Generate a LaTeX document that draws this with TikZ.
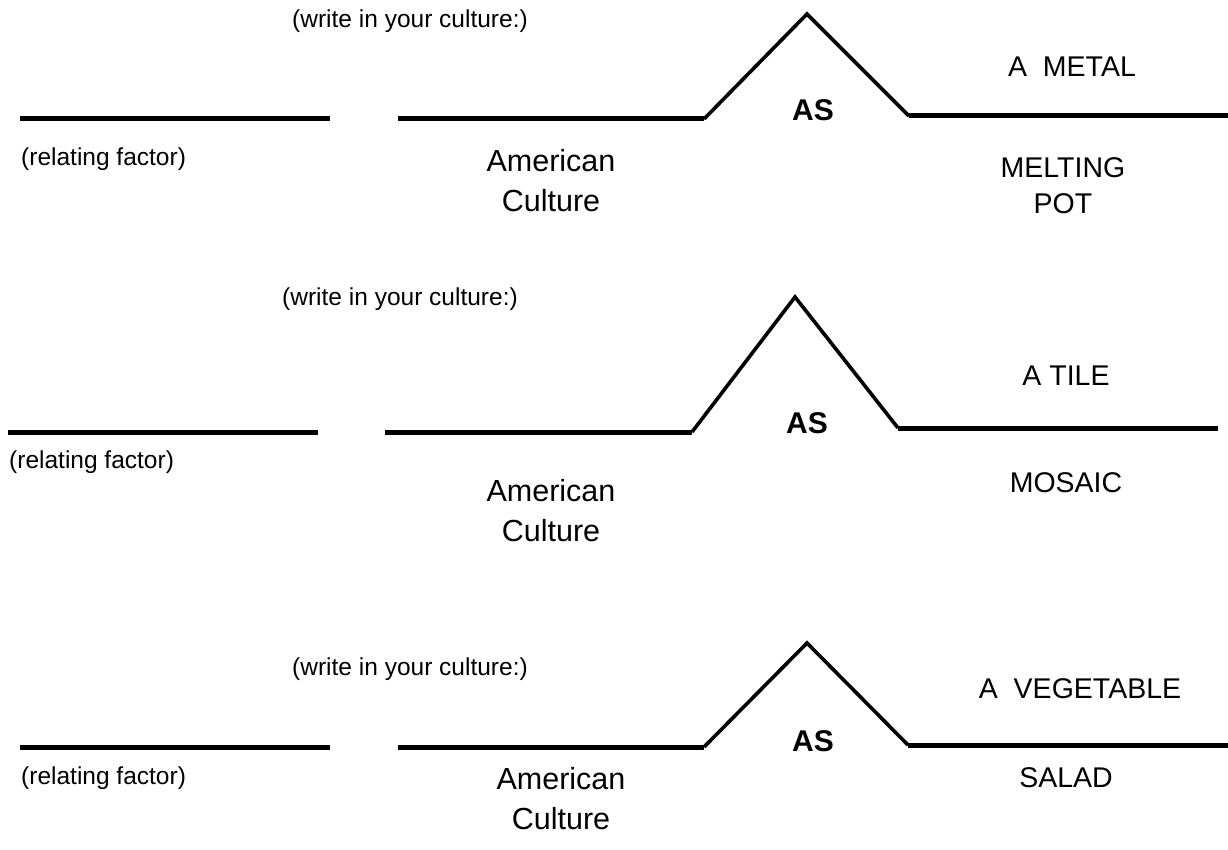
\documentclass[tikz,border=0pt]{standalone}
\usepackage{fontspec}
\setmainfont{Liberation Sans}
\begin{document}
\begin{tikzpicture}[x=1pt,y=-1pt,
  rule/.style={line width=5pt},
  roof/.style={line width=3.6pt, line join=miter},
  note/.style={inner sep=0pt, font=\fontsize{24.5}{28}\selectfont},
  word/.style={inner sep=0pt, align=center, font=\fontsize{30.5}{40}\selectfont},
  caps/.style={inner sep=0pt, align=center, font=\fontsize{28.5}{36}\selectfont},
  asword/.style={inner sep=0pt, font=\fontsize{30}{34}\selectfont\bfseries}]
\useasboundingbox (0,0) rectangle (1228,850);

% ---- first sentence: melting pot ----
\coordinate (a1) at (20,119);  \coordinate (a2) at (330,119);
\coordinate (b1) at (398,119); \coordinate (b2) at (704,119);
\coordinate (p1) at (807,14);
\coordinate (c1) at (909,116); \coordinate (c2) at (1228,116);
\draw[rule] (a1) -- (a2);
\draw[rule] (b1) -- (b2);
\draw[roof] (b2) -- (p1) -- (c1);
\draw[rule] (c1) -- (c2);
\node[note] (w1) at (410,21) {(write in your culture:)};
\node[note, anchor=west] (r1) at (21,159) {(relating factor)};
\node[word] (s1) at (551,181) {American\\Culture};
\node[asword] (as1) at (813,110) {AS};
\node[caps] (m1) at (1072,67) {A\ \ METAL};
\node[caps] (o1) at (1063,186) {MELTING\\POT};

% ---- second sentence: mosaic ----
\coordinate (a3) at (8,432);   \coordinate (a4) at (318,432);
\coordinate (b3) at (385,432); \coordinate (b4) at (692,432);
\coordinate (p2) at (795,297);
\coordinate (c3) at (898,428); \coordinate (c4) at (1218,428);
\draw[rule] (a3) -- (a4);
\draw[rule] (b3) -- (b4);
\draw[roof] (b4) -- (p2) -- (c3);
\draw[rule] (c3) -- (c4);
\node[note] (w2) at (400,299) {(write in your culture:)};
\node[note, anchor=west] (r2) at (9,462) {(relating factor)};
\node[word] (s2) at (551,511) {American\\Culture};
\node[asword] (as2) at (807,423) {AS};
\node[caps] (m2) at (1066,376) {A TILE};
\node[caps] (o2) at (1066,483) {MOSAIC};

% ---- third sentence: salad ----
\coordinate (a5) at (20,747);  \coordinate (a6) at (330,747);
\coordinate (b5) at (398,747); \coordinate (b6) at (704,747);
\coordinate (p3) at (807,643);
\coordinate (c5) at (908,745); \coordinate (c6) at (1228,745);
\draw[rule] (a5) -- (a6);
\draw[rule] (b5) -- (b6);
\draw[roof] (b6) -- (p3) -- (c5);
\draw[rule] (c5) -- (c6);
\node[note] (w3) at (410,669) {(write in your culture:)};
\node[note, anchor=west] (r3) at (21,778) {(relating factor)};
\node[word] (s3) at (561,799) {American\\Culture};
\node[asword] (as3) at (813,741) {AS};
\node[caps] (m3) at (1080,689) {A\ \ VEGETABLE};
\node[caps] (o3) at (1066,778) {SALAD};
\end{tikzpicture}
\end{document}
